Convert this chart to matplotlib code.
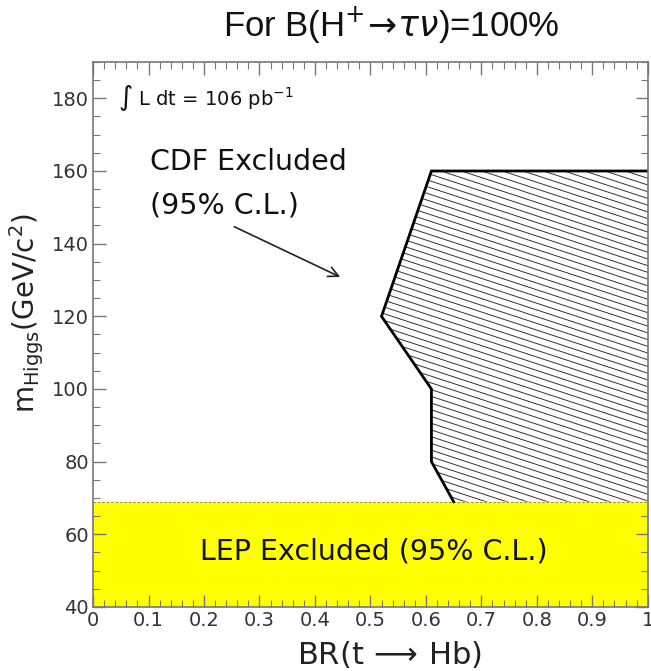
import numpy as np
import matplotlib
matplotlib.use("Agg")
import matplotlib.pyplot as plt
from matplotlib.patches import Polygon
from matplotlib.ticker import MultipleLocator

# CDF excluded region boundary (BR, mass)
cdf_br = [0.65, 0.61, 0.61, 0.52, 0.61, 1.0, 1.0]
cdf_m = [69, 80, 100, 120, 160, 160, 69]
lep_limit = 69          # LEP lower mass limit (GeV/c^2)
lumi = 106              # pb^-1

fig = plt.figure(figsize=(6.51, 6.71), dpi=100)
ax = fig.add_axes([0.143, 0.0954, 0.852, 0.8122])
ax.set_xlim(0, 1); ax.set_ylim(40, 190)

# LEP band
ax.axhspan(40, lep_limit, color="#FFFF00", zorder=1)
ax.axhline(lep_limit, color="#888888", lw=0.8, ls=(0, (2, 2)), zorder=2)

# CDF polygon + shallow hatching (clipped lines)
poly = Polygon(list(zip(cdf_br, cdf_m)), closed=True, facecolor="white",
               edgecolor="none", zorder=2)
ax.add_patch(poly)
xs = np.array([0.0, 1.0])
for c in np.arange(60, 230, 1.85):
    ln, = ax.plot(xs, c - 50 * xs, color="#333333", lw=0.7, zorder=3)
    ln.set_clip_path(poly)
ax.plot(cdf_br[:6], cdf_m[:6], color="black", lw=2.0, zorder=4, solid_joinstyle="miter")

# arrow
ax.annotate("", xy=(0.45, 130.5), xytext=(0.25, 145),
            arrowprops=dict(arrowstyle="->", color="#222222", lw=1.2,
                            mutation_scale=18))

tfont = dict(family="DejaVu Sans", color="#111111")
ax.text(0.045, 180, r"$\int$ L dt = %d pb$^{-1}$" % lumi, fontsize=14, va="center", **tfont)
ax.text(0.103, 162.5, "CDF Excluded", fontsize=20.5, va="center", **tfont)
ax.text(0.103, 150.5, "(95% C.L.)", fontsize=20.5, va="center", **tfont)
ax.text(0.506, 55.4, "LEP Excluded (95% C.L.)", fontsize=20.5, ha="center", va="center", **tfont)

# axes styling
ax.xaxis.set_major_locator(MultipleLocator(0.1))
ax.xaxis.set_minor_locator(MultipleLocator(0.02))
ax.yaxis.set_major_locator(MultipleLocator(20))
ax.yaxis.set_minor_locator(MultipleLocator(5))
ax.xaxis.set_major_formatter(plt.FuncFormatter(lambda v, p: "%g" % round(v, 1)))
ax.set_yticks(np.arange(40, 181, 20))
ax.tick_params(which="both", direction="in", top=True, right=True, color="#777777")
ax.tick_params(which="major", length=9, width=1)
ax.tick_params(which="minor", length=5, width=0.8)
ax.tick_params(labelsize=14, labelcolor="#333333", pad=3)
for s in ax.spines.values():
    s.set_color("#777777"); s.set_linewidth(1.2); s.set_zorder(6)

ax.set_xlabel(r"BR(t$\,\longrightarrow\,$Hb)", fontsize=22, color="#222222")
ax.xaxis.set_label_coords(0.535, -0.058)
ax.set_ylabel(r"m$_{\rm Higgs}$(GeV/c$^2$)", fontsize=20, color="#222222")
ax.yaxis.set_label_coords(-0.085, 0.54)

fig.text(0.601, 0.962, r"For B(H$^{+}\!\rightarrow\!\tau\nu$)=100%", fontsize=25,
         ha="center", va="center", family="Liberation Sans", color="#111111")

fig.savefig("out.png", dpi=100)
